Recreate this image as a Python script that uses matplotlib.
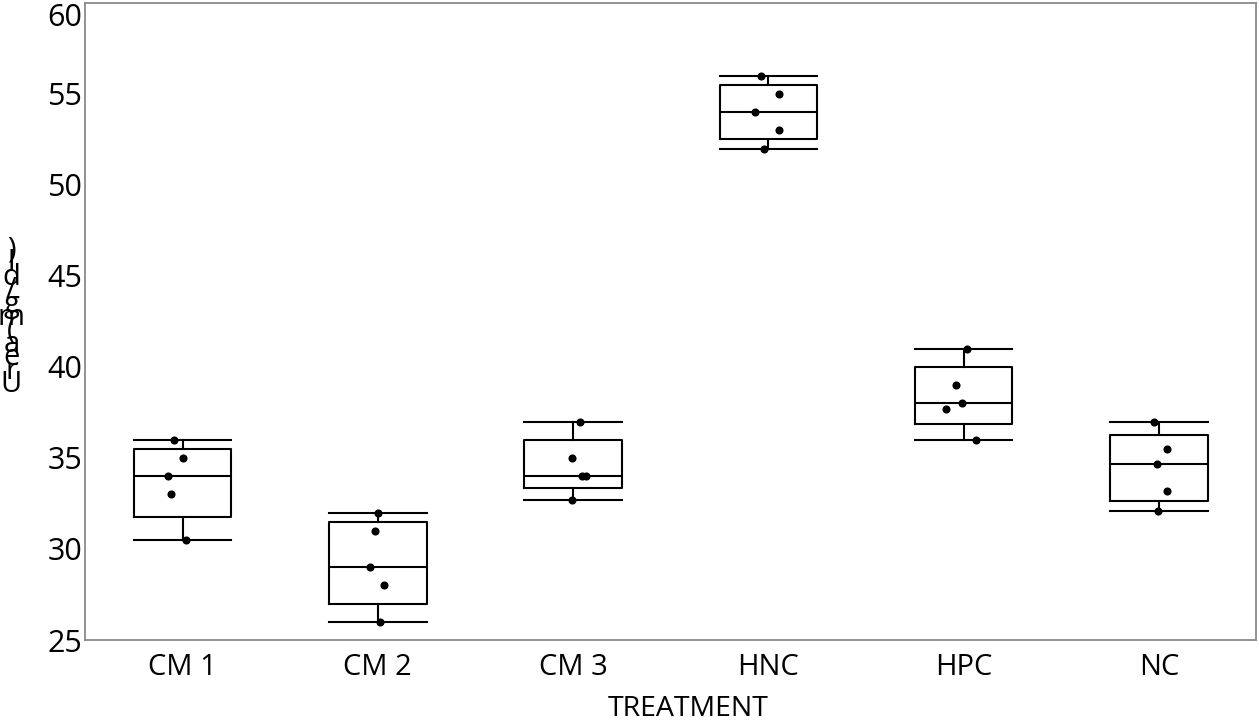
import matplotlib
matplotlib.use('Agg')
import matplotlib.pyplot as plt
import numpy as np

plt.rcParams['font.family'] = ['Open Sans', 'DejaVu Sans']

groups = ['CM 1', 'CM 2', 'CM 3', 'HNC', 'HPC', 'NC']
values = [
    [36, 35, 34, 33, 30.5],
    [32, 31, 29, 28, 26],
    [37, 35, 34, 34, 32.7],
    [56, 55, 54, 53, 52],
    [41, 39, 38, 37.7, 36],
    [37, 35.5, 34.65, 33.2, 32.1],
]
# horizontal jitter of each dot
jitter = [
    [-0.046, 0.002, -0.073, -0.06, 0.019],
    [0.0, -0.014, -0.04, 0.029, 0.012],
    [0.034, -0.004, 0.044, 0.065, -0.004],
    [-0.04, 0.052, -0.066, 0.055, -0.02],
    [0.016, -0.04, -0.009, -0.088, 0.066],
    [-0.023, 0.04, -0.009, 0.04, -0.003],
]
yticks = [25, 30, 35, 40, 45, 50, 55, 60]
ylabel = 'Urea (mg/dl)'

# box stats with minitab-style quartiles
stats = []
for v in values:
    v = np.array(v)
    q1, med, q3 = np.percentile(v, [25, 50, 75], method='weibull')
    stats.append({'med': med, 'q1': q1, 'q3': q3,
                  'whislo': v.min(), 'whishi': v.max(), 'fliers': []})

fig = plt.figure(figsize=(12.59, 7.24), dpi=100)
ax = fig.add_axes([0.0675, 0.116, 0.9305, 0.88])

pos = np.arange(1, len(groups) + 1)
lp = dict(color='black', linewidth=1.5)
ax.bxp(stats, positions=pos, widths=0.5, showfliers=False,
       boxprops=lp, medianprops=lp, whiskerprops=lp, capprops=lp,
       capwidths=0.5)

for i, v in enumerate(values):
    ax.scatter(pos[i] + np.array(jitter[i]), v, s=34, color='black', zorder=3, linewidths=0)

ax.set_xlim(0.5, 6.5)
ax.set_ylim(25, 60)
ax.set_yticks(yticks)
ax.set_xticks(pos)
ax.set_xticklabels(groups)
ax.tick_params(length=0, labelsize=21, colors='black')
ax.tick_params(axis='y', pad=2, labelsize=22)
ax.tick_params(axis='x', pad=9)
# top label sits inside the frame like the original
ax.get_yticklabels()[-1].set_va('top')
for s in ax.spines.values():
    s.set_color('#8a8a8a')
    s.set_linewidth(1.3)

ax.set_xlabel('TREATMENT', fontsize=20.5)
ax.xaxis.set_label_coords(0.515, -0.087)

# y label drawn as stacked glyphs like the original
chars = [c for c in ylabel if c != ' ']
y0 = 1 - 392 / 724
step = 13.4 / 724
for k, c in enumerate(chars):
    fig.text(0.009, y0 + k * step, c, fontsize=21, ha='center', va='baseline')

fig.savefig('out.png', dpi=100)
